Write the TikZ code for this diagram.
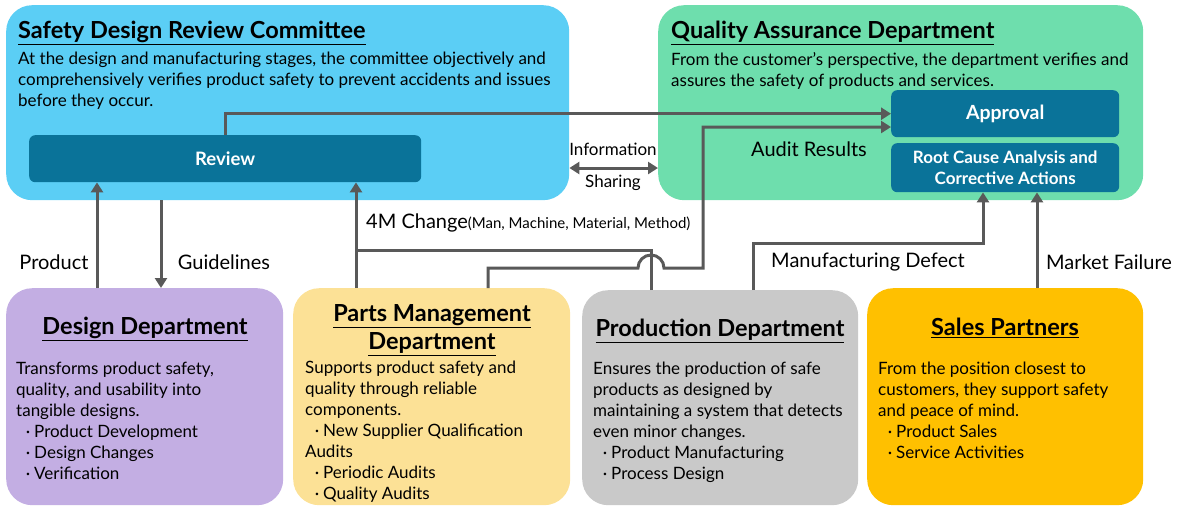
\documentclass[tikz,border=0pt]{standalone}
\usepackage{fontspec}
\setmainfont{Lato}
\usetikzlibrary{arrows.meta}

\definecolor{sdrcblue}{HTML}{5BCEF5}
\definecolor{qagreen}{HTML}{6EDEAD}
\definecolor{darkteal}{HTML}{0A7399}
\definecolor{designpurple}{HTML}{C3AEE3}
\definecolor{partsyellow}{HTML}{FCE196}
\definecolor{prodgray}{HTML}{C9C9C9}
\definecolor{salesgold}{HTML}{FFC000}
\definecolor{linegray}{HTML}{595959}

\newcommand{\bul}{\makebox[18pt][r]{·\hspace{4pt}}}

\tikzset{
  panel/.style={anchor=north west, inner sep=0pt, rounded corners=26pt},
  tealbox/.style={anchor=north west, inner sep=0pt, fill=darkteal, rounded corners=6pt, text=white, align=center},
  heading/.style={inner sep=0pt, font=\bfseries\fontsize{23.5}{28}\selectfont, align=center},
  desc/.style={anchor=north west, inner sep=0pt, align=left, font=\fontsize{17}{21}\selectfont},
  lbl/.style={inner sep=0pt, font=\fontsize{20}{22}\selectfont},
  plain/.style={draw=linegray, line width=3pt},
  link/.style={plain, -{Triangle[length=10pt,width=12pt]}}
}

\begin{document}
\begin{tikzpicture}[x=1pt,y=-1pt]
\useasboundingbox (0,0) rectangle (1181,509);

% upper panels
\node[panel, fill=sdrcblue, minimum width=563pt, minimum height=195pt] (sdrc) at (6,5) {};
\node[panel, fill=qagreen, minimum width=485pt, minimum height=195pt] (qa) at (658,5) {};
\node[heading, anchor=west] (sdrctitle) at (18,33) {\underline{Safety Design Review Committee}};
\node[desc] (sdrctext) at (18,52) {At the design and manufacturing stages, the committee objectively and\\
comprehensively verifies product safety to prevent accidents and issues\\
before they occur.};
\node[heading, anchor=west] (qatitle) at (671,33) {\underline{Quality Assurance Department}};
\node[desc] (qatext) at (671,52) {From the customer’s perspective, the department verifies and\\
assures the safety of products and services.};

\node[tealbox, minimum width=392pt, minimum height=47pt, font=\bfseries\fontsize{18.5}{21}\selectfont] (review) at (29,135) {Review};
\node[tealbox, minimum width=228pt, minimum height=47pt, font=\bfseries\fontsize{19.5}{21}\selectfont] (approval) at (891,90) {\raisebox{-2pt}{Approval}};
\node[tealbox, minimum width=228pt, minimum height=49pt, font=\bfseries\fontsize{17}{21}\selectfont] (rootcause) at (891,143) {Root Cause Analysis and\\Corrective Actions};

% lower panels
\node[panel, fill=designpurple, minimum width=277pt, minimum height=217pt] (design) at (6,288) {};
\node[panel, fill=partsyellow, minimum width=277pt, minimum height=217pt] (parts) at (293,288) {};
\node[panel, fill=prodgray, minimum width=276pt, minimum height=215pt] (production) at (582,290) {};
\node[panel, fill=salesgold, minimum width=276pt, minimum height=217pt] (sales) at (867,288) {};

\node[heading] (designtitle) at (145,329) {\underline{Design Department}};
\node[desc] (designtext) at (16,362) {Transforms product safety,\\
quality, and usability into\\
tangible designs.\\
\bul Product Development\\
\bul Design Changes\\
\bul Verification};

\node[heading] (partstitle) at (432,330) {\underline{Parts Management}\\\underline{Department}};
\node[desc] (partstext) at (305,361) {Supports product safety and\\
quality through reliable\\
components.\\
\bul New Supplier Qualification\\
Audits\\
\bul Periodic Audits\\
\bul Quality Audits};

\node[heading] (prodtitle) at (720,331) {\underline{Production Department}};
\node[desc] (prodtext) at (593,362) {Ensures the production of safe\\
products as designed by\\
maintaining a system that detects\\
even minor changes.\\
\bul Product Manufacturing\\
\bul Process Design};

\node[heading] (salestitle) at (1005,328) {\underline{Sales Partners}};
\node[desc] (salestext) at (878,362) {From the position closest to\\
customers, they support safety\\
and peace of mind.\\
\bul Product Sales\\
\bul Service Activities};

% turning points
\coordinate (colproduct) at (97,0);
\coordinate (colguide) at (161,0);
\coordinate (col4m) at (356,0);
\coordinate (hop) at (651,250);
\coordinate (auditstart) at (488,268);
\coordinate (auditturn) at (703,268);
\coordinate (auditrow) at (0,127);
\coordinate (inforow) at (0,168);
\coordinate (mfgstart) at (753,243);
\coordinate (mfgturn) at (983,243);
\coordinate (colmarket) at (1037,0);

% connectors
\draw[link] (design.north -| colproduct) -- (review.south -| colproduct);
\draw[link] (sdrc.south -| colguide) -- (design.north -| colguide);
\draw[link] (review.north) |- (approval.west);
\draw[link] (parts.north -| col4m) -- (review.south -| col4m);
\draw[plain] (production.north -| hop) -- (hop) -- (hop -| col4m);
\draw[link] (parts.north -| auditstart) -- (auditstart) -- ([xshift=-13pt]hop |- auditstart)
  arc[start angle=180, end angle=0, radius=13pt] -- (auditturn) -- (auditturn |- auditrow) -- (approval.west |- auditrow);
\draw[link, {Triangle[length=10pt,width=12pt]}-{Triangle[length=10pt,width=12pt]}] (sdrc.east |- inforow) -- (qa.west |- inforow);
\draw[link] (production.north -| mfgstart) -- (mfgstart) -- (mfgturn) -- (rootcause.south -| mfgturn);
\draw[link] (sales.north -| colmarket) -- (rootcause.south -| colmarket);

% labels
\node[lbl] (lblproduct) at (54,262) {Product};
\node[lbl] (lblguide) at (224,262) {Guidelines};
\node[lbl, anchor=west] (lbl4m) at (366,223) {4M Change{\fontsize{15}{17}\selectfont(Man, Machine, Material, Method)}};
\node[lbl] (lblaudit) at (809,149) {Audit Results};
\node[lbl, font=\fontsize{17}{21}\selectfont] (lblinfo) at (613,149) {Information};
\node[lbl, font=\fontsize{17}{21}\selectfont] (lblshare) at (613,183) {Sharing};
\node[lbl] (lblmfg) at (868,262) {Manufacturing Defect};
\node[lbl] (lblmarket) at (1109,262) {Market Failure};
\end{tikzpicture}
\end{document}
